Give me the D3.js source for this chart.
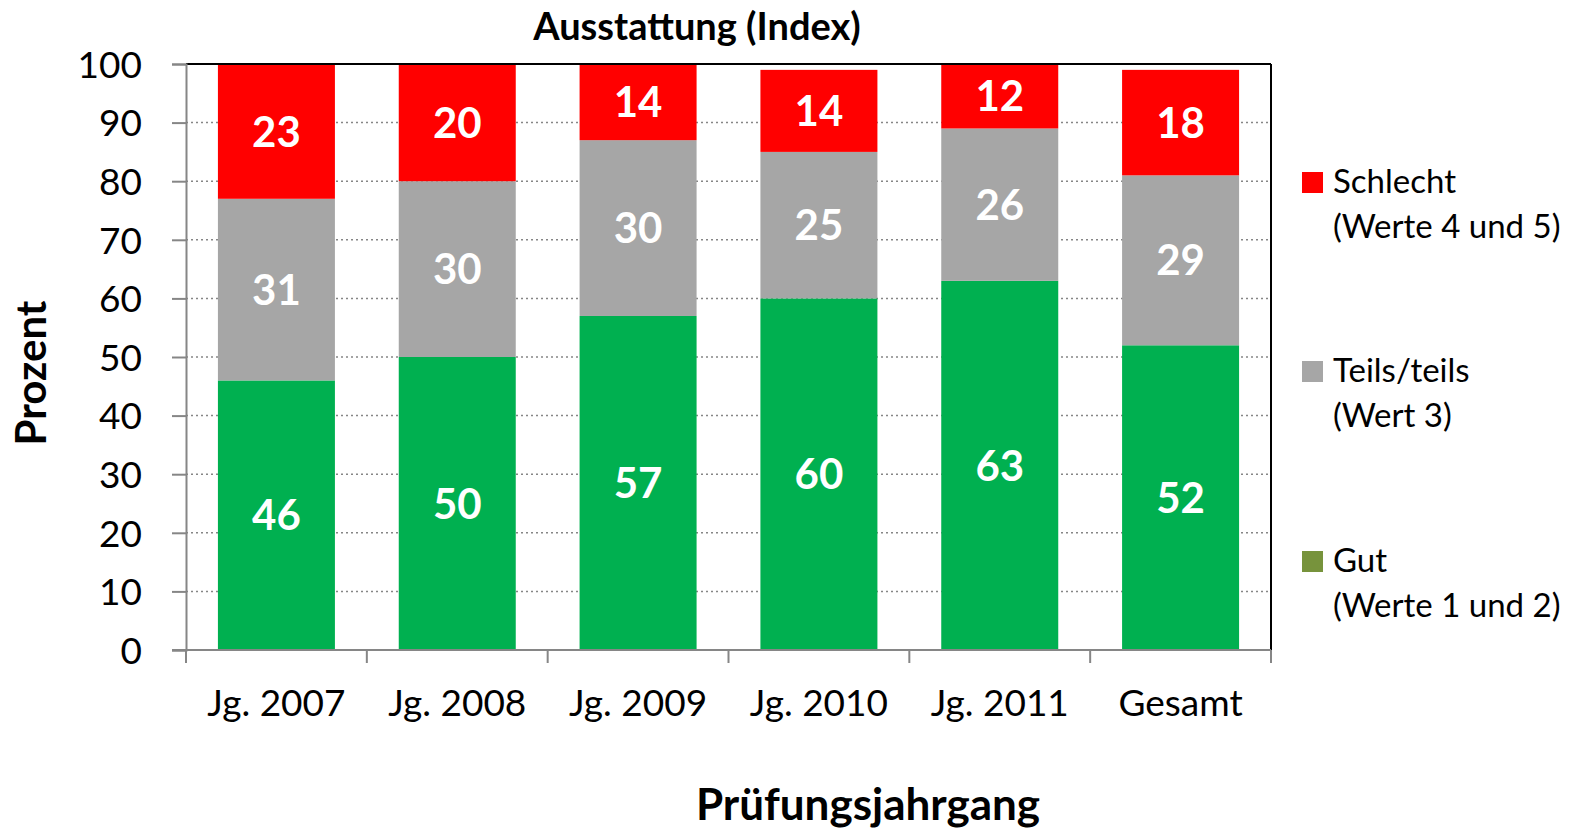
<!DOCTYPE html>
<html>
<head>
<meta charset="utf-8">
<script src="https://cdn.jsdelivr.net/npm/d3@7"></script>
<style>
  body { margin: 0; background: #fff; }
  svg { font-family: Lato, "Open Sans", sans-serif; }
</style>
</head>
<body>
<div id="chart"></div>
<script>
const categories = ['Jg. 2007', 'Jg. 2008', 'Jg. 2009', 'Jg. 2010', 'Jg. 2011', 'Gesamt'];
const gut = [46, 50, 57, 60, 63, 52];
const teils = [31, 30, 30, 25, 26, 29];
const schlecht = [23, 20, 14, 14, 12, 18];
const yTicks = [0, 10, 20, 30, 40, 50, 60, 70, 80, 90, 100];
const seriesKeys = ['gut', 'teils', 'schlecht'];
const legendItems = [
  {key: 'schlecht', lines: ['Schlecht', '(Werte 4 und 5)']},
  {key: 'teils', lines: ['Teils/teils', '(Wert 3)']},
  {key: 'gut', lines: ['Gut', '(Werte 1 und 2)']},
];

const width = 1587;
const height = 829;
const margin = {top: 64, right: 316, bottom: 179, left: 186};
const plotW = width - margin.left - margin.right;
const plotH = height - margin.top - margin.bottom;

const barColor = {gut: '#00b050', teils: '#a6a6a6', schlecht: '#ff0000'};
const legendColor = {gut: '#77933c', teils: '#a6a6a6', schlecht: '#ff0000'};

const rows = categories.map((c, i) => ({cat: c, gut: gut[i], teils: teils[i], schlecht: schlecht[i]}));
const stacked = d3.stack().keys(seriesKeys)(rows);

const svg = d3.select('#chart').append('svg')
  .attr('width', width)
  .attr('height', height);

const g = svg.append('g')
  .attr('transform', `translate(${margin.left},${margin.top})`);

const x = d3.scaleBand().domain(categories).range([0, plotW]).paddingInner(0.353).paddingOuter(0.1765);
const y = d3.scaleLinear().domain([0, 100]).range([plotH, 0]).clamp(true);

// dotted grid
g.append('g')
  .selectAll('line')
  .data(yTicks.filter((t) => t > 0 && t < 100))
  .enter().append('line')
  .attr('x1', 0)
  .attr('x2', plotW)
  .attr('y1', (d) => y(d))
  .attr('y2', (d) => y(d))
  .style('stroke', '#868686')
  .style('stroke-width', 1.5)
  .style('stroke-dasharray', '2,3');

// bars
const layers = g.selectAll('.layer')
  .data(stacked)
  .enter().append('g')
  .attr('class', 'layer')
  .style('fill', (d) => barColor[d.key]);

layers.selectAll('rect')
  .data((d) => d)
  .enter().append('rect')
  .attr('x', (d) => x(d.data.cat))
  .attr('width', x.bandwidth())
  .attr('y', (d) => y(d[1]))
  .attr('height', (d) => y(d[0]) - y(d[1]));

layers.selectAll('text')
  .data((d) => d.map((p) => ({p, key: d.key})))
  .enter().append('text')
  .attr('x', (d) => x(d.p.data.cat) + x.bandwidth() / 2)
  .attr('y', (d) => (y(d.p[0]) + y(d.p[1])) / 2)
  .attr('dy', '0.36em')
  .attr('text-anchor', 'middle')
  .style('fill', '#fff')
  .style('font-weight', 'bold')
  .style('font-size', '42px')
  .text((d) => d.p.data[d.key]);

// frame: top and right black
g.append('line').attr('x1', 0).attr('x2', plotW).attr('y1', 0).attr('y2', 0)
  .style('stroke', '#000').style('stroke-width', 2);
g.append('line').attr('x1', plotW).attr('x2', plotW).attr('y1', 0).attr('y2', plotH)
  .style('stroke', '#000').style('stroke-width', 2);

// y axis
const yAxis = d3.axisLeft(y).tickValues(yTicks).tickSize(14).tickPadding(30);
g.append('g')
  .attr('class', 'y-axis')
  .call(yAxis)
  .attr('font-family', null)
  .call((s) => s.select('.domain').style('stroke', '#868686').style('stroke-width', 2))
  .call((s) => s.selectAll('.tick line').style('stroke', '#868686').style('stroke-width', 2))
  .call((s) => s.selectAll('.tick text').style('font-size', '37px').style('fill', '#000').attr('dy', '0.36em'));

// x axis
const xAxis = d3.axisBottom(x).tickSize(0).tickPadding(40);
const xg = g.append('g')
  .attr('class', 'x-axis')
  .attr('transform', `translate(0,${plotH})`)
  .call(xAxis)
  .attr('font-family', null);
xg.select('.domain').style('stroke', '#868686').style('stroke-width', 2)
  .attr('d', `M${-14},0H${plotW}`);
xg.selectAll('.tick text').style('font-size', '37px').style('fill', '#000');
xg.selectAll('.sep')
  .data(d3.range(categories.length + 1))
  .enter().append('line')
  .attr('x1', (i) => i * x.step())
  .attr('x2', (i) => i * x.step())
  .attr('y1', 0)
  .attr('y2', 13)
  .style('stroke', '#868686')
  .style('stroke-width', 2);

// titles
svg.append('text')
  .attr('x', 697)
  .attr('y', 40)
  .attr('text-anchor', 'middle')
  .style('font-weight', 'bold')
  .style('font-size', '38px')
  .text('Ausstattung (Index)');

svg.append('text')
  .attr('x', 868)
  .attr('y', 820)
  .attr('text-anchor', 'middle')
  .style('font-weight', 'bold')
  .style('font-size', '44px')
  .text('Prüfungsjahrgang');

svg.append('text')
  .attr('transform', 'translate(46,373) rotate(-90)')
  .attr('text-anchor', 'middle')
  .style('font-weight', 'bold')
  .style('font-size', '42px')
  .text('Prozent');

// legend
const legendTop = [172, 361, 551];
const legend = svg.append('g').attr('class', 'legend');
const items = legend.selectAll('g')
  .data(legendItems)
  .enter().append('g')
  .attr('transform', (d, i) => `translate(1302,${legendTop[i]})`);

items.append('rect')
  .attr('width', 21)
  .attr('height', 21)
  .style('fill', (d) => legendColor[d.key]);

items.selectAll('text')
  .data((d) => d.lines)
  .enter().append('text')
  .attr('x', 31)
  .attr('y', (d, i) => 21 + i * 45)
  .style('font-size', '33px')
  .text((d) => d);
</script>
</body>
</html>
